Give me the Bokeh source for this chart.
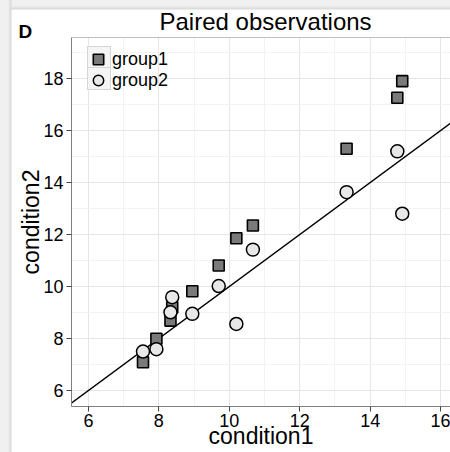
from bokeh.plotting import figure
from bokeh.models import (Range1d, SingleIntervalTicker, Slope, Span, Label,
                          Legend, LegendItem, Title)
from bokeh.embed import file_html
from bokeh.resources import INLINE

# Paired measurements: each condition1 value has a group1 and a group2 reading
condition1 = [7.55, 7.93, 8.33, 8.38, 8.95, 9.70, 10.20, 10.67, 13.33, 14.77, 14.91]
group1 = [7.09, 7.99, 8.69, 9.20, 9.82, 10.81, 11.86, 12.35, 15.30, 17.26, 17.90]
group2 = [7.50, 7.59, 9.01, 9.59, 8.95, 10.02, 8.56, 11.42, 13.63, 15.20, 12.80]
series_names = ["group1", "group2"]

x_limits = (5.52, 16.28)
y_limits = (5.385, 19.58)
tick_step = 2

FONT = "Liberation Sans"
AXIS_GREY = "#808080"

p = figure(width=450, height=452, output_backend="svg", toolbar_location=None,
           x_range=Range1d(*x_limits), y_range=Range1d(*y_limits),
           min_border_left=71, min_border_right=0,
           min_border_top=37, min_border_bottom=46,
           background_fill_color="white", border_fill_alpha=0,
           outline_line_color=None)

for ax in (p.xaxis[0], p.yaxis[0]):
    ax.ticker = SingleIntervalTicker(interval=tick_step, num_minor_ticks=2)
    ax.axis_line_color = AXIS_GREY
    ax.axis_line_width = 1
    ax.major_tick_line_color = "#444444"
    ax.major_tick_out = 5
    ax.major_tick_in = 0
    ax.minor_tick_line_color = None
    ax.major_label_text_font = FONT
    ax.major_label_text_font_size = "18px"
    ax.major_label_text_color = "black"
    ax.axis_label_text_font = FONT
    ax.axis_label_text_font_size = "23px"
    ax.axis_label_text_font_style = "normal"
    ax.axis_label_text_color = "black"

p.xaxis.axis_label = "condition1"
p.yaxis.axis_label = "condition2"
p.xaxis.major_label_standoff = 2
p.yaxis.major_label_standoff = 3
p.xaxis.axis_label_standoff = -7
p.yaxis.axis_label_standoff = -4

for g in (p.xgrid[0], p.ygrid[0]):
    g.grid_line_color = "#e6e6e6"
    g.grid_line_width = 1
    g.minor_grid_line_color = "#f3f3f3"
    g.minor_grid_line_width = 1

p.title = Title(text="Paired observations", align="left", offset=88,
                standoff=5, text_font=FONT, text_font_size="24px",
                text_font_style="normal", text_color="black")

# panel letter sits in the left border, level with the top of the frame
p.add_layout(Label(x=17, y=375, x_units="screen", y_units="screen",
                   text="D", text_align="left", text_baseline="alphabetic",
                   text_font=FONT, text_font_size="19px",
                   text_font_style="bold", text_color="black"), "left")

# top border of the panel
p.add_layout(Span(location=y_limits[1], dimension="width",
                  line_color=AXIS_GREY, line_width=1))

# identity line y = x, kept beneath the markers
p.add_layout(Slope(gradient=1, y_intercept=0, line_color="black",
                   line_width=1.5, level="underlay"))

# placeholder glyph with no drawable position (draws nothing in a legend key)
nan = float("nan")
blank = p.quad(left=[nan], right=[nan], top=[nan], bottom=[nan],
               fill_alpha=0, line_alpha=0)

sq = p.scatter(condition1, group1, marker="square", size=11,
               fill_color="#7a7a7a", line_color="black", line_width=1.6)
ci = p.scatter(condition1, group2, marker="circle", size=13,
               fill_color="#e8e8e8", line_color="black", line_width=1.5)

# framed key boxes, one per series, stacked edge to edge
for row_bottom in (337, 316):
    p.add_layout(Legend(items=[LegendItem(label=" ", renderers=[blank])],
                        location=(16, row_bottom), glyph_width=22,
                        glyph_height=21, label_height=21, label_width=0,
                        label_standoff=0, label_text_font_size="0px",
                        padding=0, spacing=0, margin=0,
                        border_line_color="#b8b8b8", border_line_width=1,
                        background_fill_color="#f5f5f5",
                        background_fill_alpha=1))

# series markers and names centred on those boxes
for name, renderer, row_bottom in zip(series_names, (sq, ci), (334, 313)):
    p.add_layout(Legend(items=[LegendItem(label=name, renderers=[renderer])],
                        location=(14, row_bottom), glyph_width=26,
                        glyph_height=26, label_height=26, label_standoff=1,
                        padding=0, spacing=0, margin=0,
                        border_line_color=None, background_fill_alpha=0,
                        label_text_font=FONT, label_text_font_size="18px",
                        label_text_color="black"))

# light grey page edge with a soft shadow along the left and top
p.styles = {"background": (
    "linear-gradient(to right, #f0f0f0 0px, #f0f0f0 8px, #d8d8d8 11px, "
    "rgba(255,255,255,0) 12px), "
    "linear-gradient(to bottom, #f0f0f0 0px, #f0f0f0 6px, #d8d8d8 9px, "
    "#ffffff 10px)")}

open("out.html", "w").write(file_html(p, INLINE))
